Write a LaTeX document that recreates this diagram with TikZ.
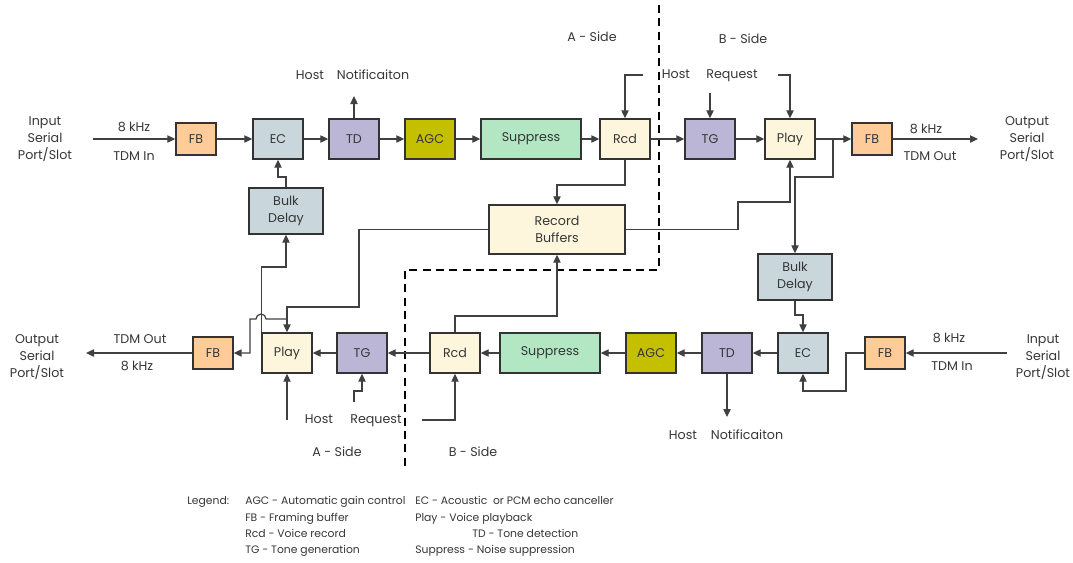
\documentclass[tikz,border=0pt]{standalone}
\usepackage{fontspec}
\setmainfont{Poppins}
\usetikzlibrary{arrows.meta}
\definecolor{cFB}{HTML}{FFCC99}
\definecolor{cEC}{HTML}{C9D6DC}
\definecolor{cTD}{HTML}{BBB6D6}
\definecolor{cAGC}{HTML}{C4C000}
\definecolor{cSUP}{HTML}{B3E6C3}
\definecolor{cRCD}{HTML}{FEF5DD}
\definecolor{cTXT}{HTML}{363636}
\begin{document}
\begin{tikzpicture}[x=0.75pt,y=-0.75pt,
  blk/.style={draw=black!80, line width=1.1pt, inner sep=0pt, align=center, text=cTXT,
    font=\fontsize{9.5}{12.5}\selectfont, minimum width=37.5pt, minimum height=30pt},
  fbblk/.style={blk, fill=cFB, minimum width=30pt, minimum height=24pt},
  ecblk/.style={blk, fill=cEC},
  tdblk/.style={blk, fill=cTD},
  agcblk/.style={blk, fill=cAGC},
  supblk/.style={blk, fill=cSUP, minimum width=75pt},
  rcdblk/.style={blk, fill=cRCD},
  bdblk/.style={blk, fill=cEC, minimum width=55.5pt, minimum height=34.5pt},
  rbblk/.style={blk, fill=cRCD, minimum width=102pt, minimum height=36.75pt},
  lbl/.style={text=cTXT, inner sep=0pt, align=center, font=\fontsize{9.5}{12.75}\selectfont},
  one/.style={text height=7pt, text depth=2pt},
  leg/.style={text=cTXT, inner sep=0pt, anchor=west, text height=6pt, text depth=2pt,
    font=\fontsize{8.1}{11}\selectfont},
  conn/.style={draw=black!75, line width=0.9pt},
  arr/.style={conn, -{Triangle[length=6pt,width=5.5pt]}},
  sidedash/.style={draw=black, line width=1.6pt, dash pattern=on 6pt off 4pt}
]
\useasboundingbox (0,0) rectangle (1073,562);

% ---------- top row ----------
\node[fbblk]  (FB1)  at (196,139) {FB};
\node[ecblk]  (EC1)  at (278,139) {EC};
\node[tdblk]  (TD1)  at (354,139) {TD};
\node[agcblk] (AGC1) at (430,139) {AGC};
\node[supblk] (SUP1) at (531,139) {Suppress};
\node[rcdblk] (RCD1) at (625,139) {Rcd};
\node[tdblk]  (TG1)  at (710,139) {TG};
\node[rcdblk] (PLAY1) at (790,139) {Play};
\node[fbblk]  (FB2)  at (872,139) {FB};
\node[bdblk]  (BD1)  at (286,211) {Bulk\\Delay};
\node[rbblk]  (RB)   at (557,229.5) {Record\\Buffers};

% ---------- bottom row ----------
\node[fbblk]  (FB3)  at (213,353) {FB};
\node[rcdblk] (PLAY2) at (287,353) {Play};
\node[tdblk]  (TG2)  at (362,353) {TG};
\node[rcdblk] (RCD2) at (455,353) {Rcd};
\node[supblk] (SUP2) at (550,353) {Suppress};
\node[agcblk] (AGC2) at (651,353) {AGC};
\node[tdblk]  (TD2)  at (727,353) {TD};
\node[ecblk]  (EC2)  at (803,353) {EC};
\node[fbblk]  (FB4)  at (885,353) {FB};
\node[bdblk]  (BD2)  at (795,277) {Bulk\\Delay};

% ---------- free ends ----------
\coordinate (in1) at (93,139);
\coordinate (out1) at (978,139);
\coordinate (in2) at (1007,353);
\coordinate (out2) at (86,353);
\coordinate (tdn1) at (354,96);
\coordinate (tdn2) at (727,417);
\coordinate (hr1) at (643,75);
\coordinate (rq1) at (710,93);
\coordinate (rq2) at (778,75);
\coordinate (hp2) at (287,420);
\coordinate (rq3) at (354,402);
\coordinate (hr2) at (422,420);
\coordinate (br1) at (833,139);
\coordinate (tee) at (287,319);

% ---------- texts ----------
\node[lbl] (tIn1) at (45,139) {Input\\Serial\\Port/Slot};
\node[lbl,one] (tk1) at (134,128) {8 kHz};
\node[lbl,one] (tt1) at (134,157) {TDM In};
\node[lbl] (tOut1) at (1027,139) {Output\\Serial\\Port/Slot};
\node[lbl,one] (tk2) at (926,130) {8 kHz};
\node[lbl,one] (tt2) at (930,157) {TDM Out};
\node[lbl] (tOut2) at (37,357) {Output\\Serial\\Port/Slot};
\node[lbl,one] (tt3) at (140,340) {TDM Out};
\node[lbl,one] (tk3) at (137,367) {8 kHz};
\node[lbl] (tIn2) at (1043,357) {Input\\Serial\\Port/Slot};
\node[lbl,one] (tk4) at (949,339) {8 kHz};
\node[lbl,one] (tt4) at (952,367) {TDM In};

\node[lbl,one] (h1) at (310,76) {Host};
\node[lbl,one] (n1) at (373,76) {Notificaiton};
\node[lbl,one] (h2) at (676,75) {Host};
\node[lbl,one] (r2) at (732,75) {Request};
\node[lbl,one] (h3) at (683,436) {Host};
\node[lbl,one] (n3) at (747,436) {Notificaiton};
\node[lbl,one] (h4) at (319,420) {Host};
\node[lbl,one] (r4) at (376,420) {Request};
\node[lbl,one] (sa1) at (592,38) {A - Side};
\node[lbl,one] (sb1) at (743,40) {B - Side};
\node[lbl,one] (sa2) at (337,453) {A - Side};
\node[lbl,one] (sb2) at (473,453) {B - Side};

% ---------- legend ----------
\node[leg] (lg0) at (187,502) {Legend:};
\node[leg] (lg1) at (245,502) {AGC - Automatic gain control};
\node[leg] (lg2) at (245,519) {FB - Framing buffer};
\node[leg] (lg3) at (245,535) {Rcd - Voice record};
\node[leg] (lg4) at (245,551) {TG - Tone generation};
\node[leg] (lg5) at (415,502) {EC - Acoustic\ \ or PCM echo canceller};
\node[leg] (lg6) at (415,519) {Play - Voice playback};
\node[leg] (lg7) at (472,535) {TD - Tone detection};
\node[leg] (lg8) at (415,551) {Suppress - Noise suppression};

% ---------- dashed side divider ----------
\draw[sidedash] (659,5) -- (659,270) -- (405,270) -- (405,470);

% ---------- top row connectors ----------
\draw[arr] (in1) -- (FB1.west);
\draw[arr] (FB1) -- (EC1);
\draw[arr] (EC1) -- (TD1);
\draw[arr] (TD1) -- (AGC1);
\draw[arr] (AGC1) -- (SUP1);
\draw[arr] (SUP1) -- (RCD1);
\draw[arr] (RCD1) -- (TG1);
\draw[arr] (TG1) -- (PLAY1);
\draw[arr] (PLAY1) -- (FB2);
\draw[arr] (FB2.east) -- (out1);
\draw[arr] (TD1.north) -- (tdn1);
\draw[arr] (BD1.north) -- (BD1.north |- 0,177) -- (EC1.south |- 0,177) -- (EC1.south);
\draw[arr] (hr1) -| (RCD1.north);
\draw[arr] (rq1) -- (TG1.north);
\draw[arr] (rq2) -| (PLAY1.north);
\draw[arr] (RCD1.south) |- (RB.north |- 0,185) -- (RB.north);
\draw[arr] (RB.east) -- (738,229.5) -- (738,202) -| (PLAY1.south);
\draw[arr] (br1) -- (833,177) -| (BD2.north);

% ---------- bottom row connectors ----------
\draw[arr] (in2) -- (FB4.east);
\draw[arr] (FB4.west) -- (846,353) -- (846,391) -| (EC2.south);
\draw[arr] (BD2.south) |- (EC2.north |- 0,315) -- (EC2.north);
\draw[arr] (EC2) -- (TD2);
\draw[arr] (TD2) -- (AGC2);
\draw[arr] (AGC2) -- (SUP2);
\draw[arr] (SUP2) -- (RCD2);
\draw[arr] (RCD2) -- (TG2);
\draw[arr] (TG2) -- (PLAY2);
\draw[arr] (TD2.south) -- (tdn2);
\draw[arr] (RCD2.north) |- (RB.south |- 0,316) -- (RB.south);
\draw[arr] (hp2) -- (PLAY2.south);
\draw[arr] (rq3) |- (TG2.south |- 0,391) -- (TG2.south);
\draw[arr] (hr2) -| (RCD2.south);
\draw[arr] (RB.west) -| (359,307) -| (PLAY2.north);
\draw[arr] (PLAY2.north west) -- (PLAY2.north west |- 0,267) -| (BD1.south);
\draw[arr] (tee) -- (266,319) arc[start angle=0, end angle=180, radius=3.75pt] -- (250,319) -- (250,353) -- (FB3.east);
\draw[arr] (FB3.west) -- (out2);
\end{tikzpicture}
\end{document}
